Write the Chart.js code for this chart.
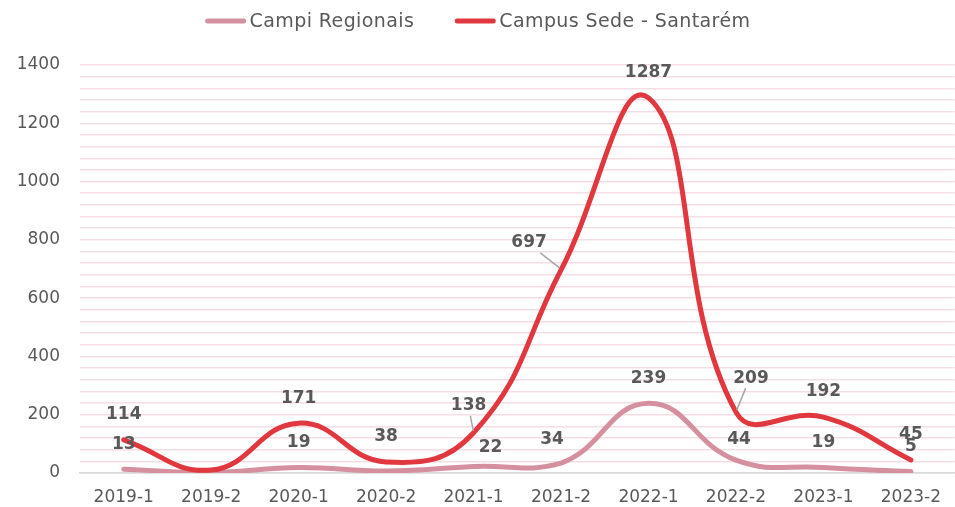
<!DOCTYPE html>
<html lang="pt">
  <head>
    <meta charset="UTF-8" />
    <title>Campi Regionais x Campus Sede</title>
    <script src="https://cdn.jsdelivr.net/npm/chart.js"></script>
    <style>
      body { margin: 0; background: #fff; }
      .chart-container { width: 955px; height: 507px; }
    </style>
  </head>
  <body>
    <div class="chart-container">
      <canvas id="lineChart"></canvas>
    </div>

    <script>
      // data
      const semestres = ["2019-1", "2019-2", "2020-1", "2020-2", "2021-1", "2021-2", "2022-1", "2022-2", "2023-1", "2023-2"];
      const campiRegionais = [13, 2, 19, 7, 22, 34, 239, 44, 19, 5];
      const campusSede = [114, 10, 171, 38, 138, 697, 1287, 209, 192, 45];
      const yTicks = [0, 200, 400, 600, 800, 1000, 1200, 1400];

      // which points show a value label (2019-2 and one 2020-2 have none in the original)
      const hideLabels = { sede: [1], regionais: [1, 3] };
      // small nudges for labels that sit off the point, plus leader lines
      const labelNudge = {
        sede: { 4: { dx: -5, dy: -2, leader: true }, 5: { dx: -32, dy: -2, leader: true }, 7: { dx: 15, dy: -9, leader: true } },
        regionais: { 4: { dx: 17, dy: 6 }, 5: { dx: -9, dy: 1 }, 7: { dx: 3, dy: 4 } },
      };

      const valueLabels = {
        id: "valueLabels",
        afterDatasetsDraw(chart) {
          const ctx = chart.ctx;
          ctx.save();
          ctx.font = "bold 17px 'DejaVu Sans'";
          ctx.fillStyle = "#595959";
          ctx.textAlign = "center";
          ctx.textBaseline = "middle";
          chart.data.datasets.forEach((ds, i) => {
            const key = ds.key;
            const meta = chart.getDatasetMeta(i);
            meta.data.forEach((pt, j) => {
              if (hideLabels[key].includes(j)) return;
              const n = labelNudge[key][j] || {};
              const x = pt.x + (n.dx || 0);
              const y = pt.y - 25 + (n.dy || 0);
              if (n.leader) {
                ctx.strokeStyle = "#a6a6a6";
                ctx.lineWidth = 1.5;
                ctx.beginPath();
                ctx.moveTo(x + (pt.x - x) * 0.35, y + 10);
                ctx.lineTo(pt.x - (pt.x - x) * 0.05, pt.y - 2);
                ctx.stroke();
              }
              ctx.fillText(ds.data[j], x, y);
            });
          });
          ctx.restore();
        },
      };

      // legend drawn by hand so the gap between items can be wide without a tall legend box
      const topLegend = {
        id: "topLegend",
        afterDraw(chart) {
          const ctx = chart.ctx;
          const items = chart.data.datasets.slice().reverse();
          const lineW = 42, gap = 3, between = 40, y = 21;
          ctx.save();
          ctx.font = "19px 'DejaVu Sans'";
          ctx.letterSpacing = "0.4px";
          const widths = items.map((ds) => ctx.measureText(ds.label).width);
          const total = widths.reduce((s, w) => s + lineW + gap + w, 0) + between * (items.length - 1);
          let x = (chart.width - total) / 2;
          items.forEach((ds, i) => {
            ctx.strokeStyle = ds.borderColor;
            ctx.lineWidth = 5;
            ctx.lineCap = "round";
            ctx.beginPath();
            ctx.moveTo(x + 3, y);
            ctx.lineTo(x + lineW - 3, y);
            ctx.stroke();
            ctx.fillStyle = "#595959";
            ctx.textAlign = "left";
            ctx.textBaseline = "middle";
            ctx.fillText(ds.label, x + lineW + gap, y + 1);
            x += lineW + gap + widths[i] + between;
          });
          ctx.restore();
        },
      };

      const ctx = document.getElementById("lineChart").getContext("2d");
      new Chart(ctx, {
        type: "line",
        data: {
          labels: semestres,
          datasets: [
            {
              key: "sede",
              label: "Campus Sede - Santarém",
              data: campusSede,
              borderColor: "#e0383e",
              backgroundColor: "#e0383e",
              borderWidth: 5,
              borderCapStyle: "round",
              tension: 0.45,
              pointRadius: 0,
            },
            {
              key: "regionais",
              label: "Campi Regionais",
              data: campiRegionais,
              borderColor: "#d4909f",
              backgroundColor: "#d4909f",
              borderWidth: 5,
              borderCapStyle: "round",
              tension: 0.45,
              pointRadius: 0,
            },
          ],
        },
        options: {
          responsive: true,
          maintainAspectRatio: false,
          animation: false,
          layout: { padding: { top: 65, right: 0, bottom: 0, left: 0 } },
          plugins: {
            legend: { display: false },
            tooltip: { enabled: false },
          },
          scales: {
            x: {
              offset: true,
              afterFit(scale) { scale.height = 34; },
              grid: { display: false, drawTicks: false },
              border: { display: true, color: "#d9d9d9", width: 1.5 },
              ticks: { padding: 14, color: "#595959", font: { family: "'DejaVu Sans'", size: 17 } },
            },
            y: {
              min: 0,
              max: 1400,
              afterFit(scale) { scale.width = 80; },
              border: { display: false },
              grid: {
                drawTicks: false,
                lineWidth: 1.5,
                color: (c) => (c.tick && c.tick.value === 0 ? "#d9d9d9" : "#f5dde4"),
              },
              ticks: {
                stepSize: 40,
                autoSkip: false,
                padding: 20,
                color: "#595959",
                font: { family: "'DejaVu Sans'", size: 17 },
                callback: (v) => (yTicks.includes(v) ? v : ""),
              },
            },
          },
        },
        plugins: [valueLabels, topLegend],
      });
    </script>
  </body>
</html>
